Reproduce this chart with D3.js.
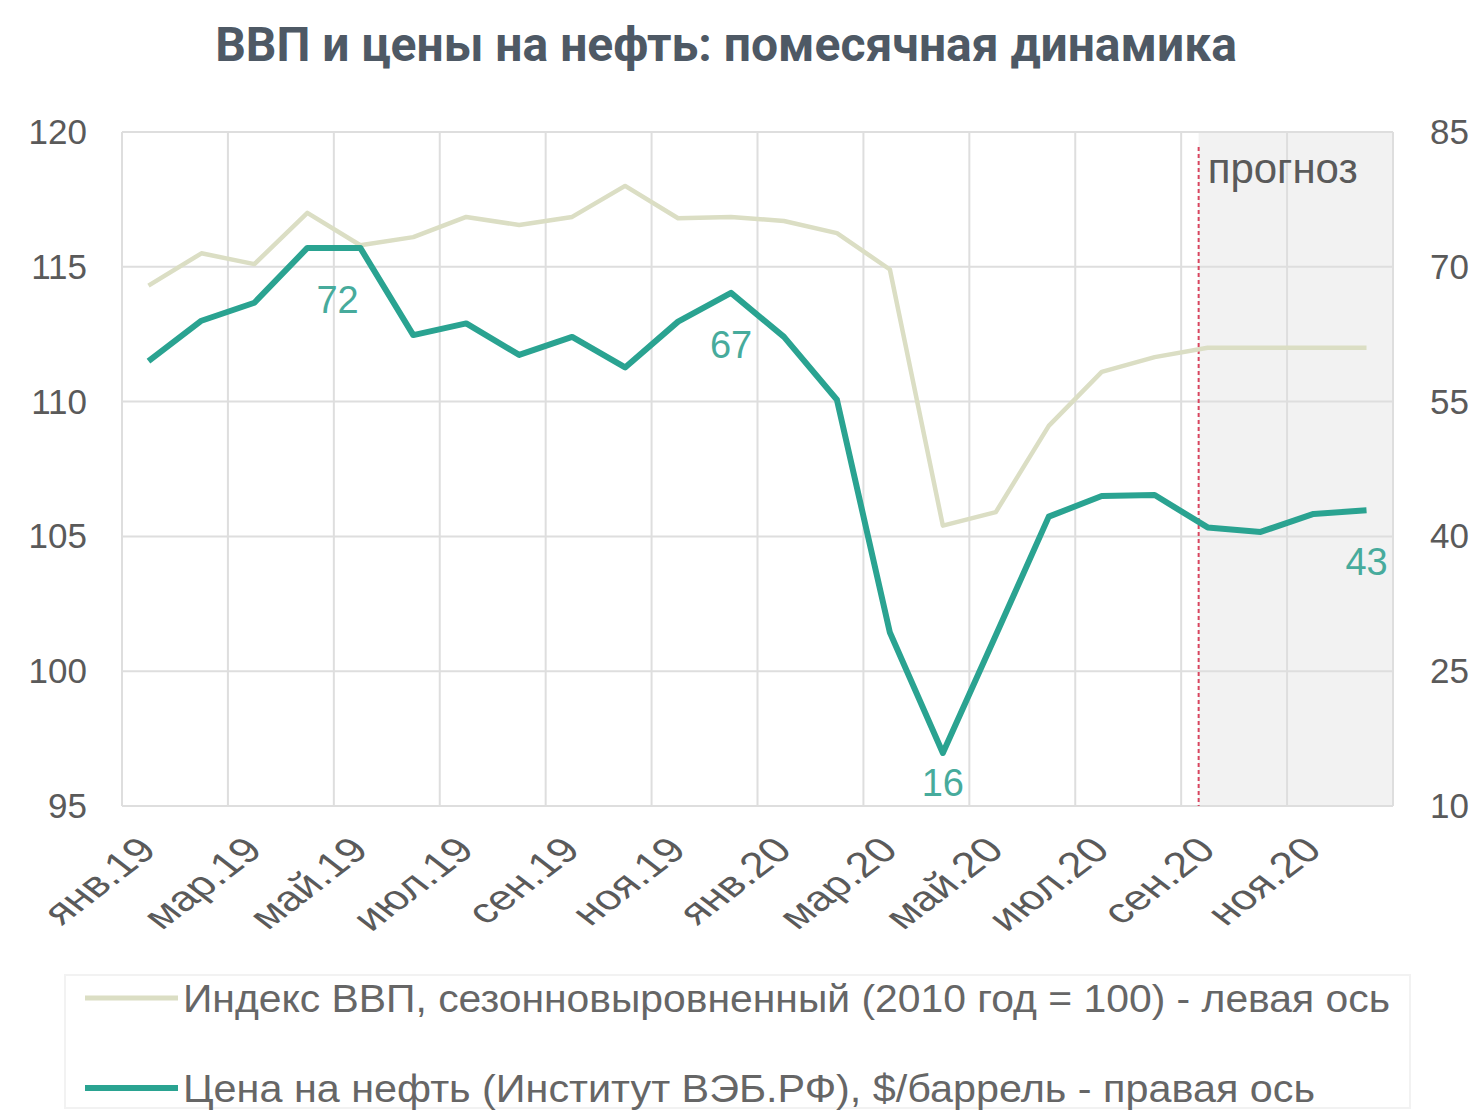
<!DOCTYPE html>
<html>
<head>
<meta charset="utf-8">
<script src="https://cdn.jsdelivr.net/npm/d3@7"></script>
<style>
  body { margin: 0; background: #fff; }
  svg text { font-family: "Liberation Sans", Arial, sans-serif; }
</style>
</head>
<body>
<svg id="chart" width="1480" height="1110"></svg>
<script>
// месяцы
const months = ["янв.19","фев.19","мар.19","апр.19","май.19","июн.19","июл.19","авг.19","сен.19","окт.19","ноя.19","дек.19",
  "янв.20","фев.20","мар.20","апр.20","май.20","июн.20","июл.20","авг.20","сен.20","окт.20","ноя.20","дек.20"];

// индекс ВВП (левая ось)
const gdp = [114.3,115.5,115.1,117.0,115.8,116.1,116.85,116.55,116.85,118.0,116.8,116.85,
  116.7,116.25,114.9,105.4,105.9,109.1,111.1,111.65,112.0,112.0,112.0,112.0];

// цена на нефть (правая ось)
const oil = [59.5,64.0,66.0,72.1,72.1,62.4,63.7,60.2,62.2,58.8,63.9,67.1,
  62.2,55.2,29.3,15.9,29.0,42.2,44.5,44.6,41.0,40.5,42.5,42.9];

const leftTicks = [95,100,105,110,115,120];
const rightTicks = [10,25,40,55,70,85];

// подписи точек
const pointLabels = [
  {month: "апр.19", text: "72"},
  {month: "дек.19", text: "67"},
  {month: "апр.20", text: "16"},
  {month: "дек.20", text: "43"}
];
const forecastStart = "сен.20";

const legendItems = [
  "Индекс ВВП, сезонновыровненный (2010 год = 100) - левая ось",
  "Цена на нефть (Институт ВЭБ.РФ), $/баррель  - правая ось"
];

const gdpColor = "#dbdec4";
const oilColor = "#2aa391";
const labelColor = "#47ab9c";

const svg = d3.select("#chart");
const plotLeft = 122, plotRight = 1393, plotTop = 132, plotBottom = 806;

const x = d3.scaleBand().domain(months).range([plotLeft, plotRight]).paddingInner(0).paddingOuter(0);
const cx = m => x(m) + x.bandwidth() / 2;
const yL = d3.scaleLinear().domain([95, 120]).range([plotBottom, plotTop]);
const yR = d3.scaleLinear().domain([10, 85]).range([plotBottom, plotTop]);

// TITEL
svg.append("text")
  .attr("x", 726).attr("y", 61)
  .attr("text-anchor", "middle")
  .attr("font-size", 48)
  .attr("font-weight", "bold")
  .style("font-family", "Roboto, sans-serif")
  .attr("fill", "#4e5965")
  .text("ВВП и цены на нефть: помесячная динамика");

// прогноз
const fx = cx(forecastStart) - x.step() * 0.17;
svg.append("rect")
  .attr("x", fx).attr("y", plotTop)
  .attr("width", plotRight - fx).attr("height", plotBottom - plotTop)
  .attr("fill", "#f2f2f2");

// grid
svg.append("g")
  .selectAll("line")
  .data(leftTicks)
  .join("line")
  .attr("x1", plotLeft).attr("x2", plotRight)
  .attr("y1", d => yL(d)).attr("y2", d => yL(d))
  .attr("stroke", "#dedede").attr("stroke-width", 2);

const vlines = months.filter((m, i) => i % 2 === 0).map(m => x(m)).concat([plotRight]);
svg.append("g")
  .selectAll("line")
  .data(vlines)
  .join("line")
  .attr("x1", d => d).attr("x2", d => d)
  .attr("y1", plotTop).attr("y2", plotBottom)
  .attr("stroke", "#dedede").attr("stroke-width", 2);

// dashed line
svg.append("line")
  .attr("x1", fx).attr("x2", fx)
  .attr("y1", plotTop + 15).attr("y2", plotBottom)
  .attr("stroke", "#d9455f").attr("stroke-width", 2)
  .attr("stroke-dasharray", "4,3");

svg.append("text")
  .attr("x", fx + 9).attr("y", 183)
  .attr("font-size", 42)
  .attr("fill", "#5a5a5a")
  .text("прогноз");

// axis labels
svg.append("g")
  .selectAll("text")
  .data(leftTicks)
  .join("text")
  .attr("x", 87).attr("y", d => yL(d) + 12)
  .attr("text-anchor", "end")
  .attr("font-size", 35)
  .attr("fill", "#5a5a5a")
  .text(d => d);

svg.append("g")
  .selectAll("text")
  .data(rightTicks)
  .join("text")
  .attr("x", 1430).attr("y", d => yR(d) + 12)
  .attr("font-size", 35)
  .attr("fill", "#5a5a5a")
  .text(d => d);

svg.append("g")
  .selectAll("text")
  .data(months.filter((m, i) => i % 2 === 0))
  .join("text")
  .attr("transform", d => `translate(${cx(d) + 10},${852}) scale(1.3,1) rotate(-45)`)
  .attr("text-anchor", "end")
  .attr("font-size", 35)
  .attr("fill", "#5a5a5a")
  .text(d => d);

// LINES
const lineGdp = d3.line().x((d, i) => cx(months[i])).y(d => yL(d));
const lineOil = d3.line().x((d, i) => cx(months[i])).y(d => yR(d));

svg.append("path")
  .attr("d", lineGdp(gdp))
  .attr("fill", "none")
  .attr("stroke", gdpColor)
  .attr("stroke-width", 4.5)
  .attr("stroke-linejoin", "round");

svg.append("path")
  .attr("d", lineOil(oil))
  .attr("fill", "none")
  .attr("stroke", oilColor)
  .attr("stroke-width", 6)
  .attr("stroke-linejoin", "round");

// LABELS
svg.append("g")
  .selectAll("text")
  .data(pointLabels)
  .join("text")
  .attr("x", d => cx(d.month) + (d.month === "апр.19" ? x.step() * 0.57 : 0))
  .attr("y", d => yR(oil[months.indexOf(d.month)]) + (d.month === "апр.20" ? 43 : 65))
  .attr("text-anchor", "middle")
  .attr("font-size", 38)
  .attr("fill", labelColor)
  .text(d => d.text);

// LEGENDA
const legend = svg.append("g");
legend.append("rect")
  .attr("x", 65).attr("y", 975)
  .attr("width", 1345).attr("height", 133)
  .attr("fill", "none")
  .attr("stroke", "#f2f2f2").attr("stroke-width", 2);

const legendColors = [gdpColor, oilColor];
const legendWidths = [1207, 1132];
legend.selectAll("line")
  .data(legendItems)
  .join("line")
  .attr("x1", 85).attr("x2", 178)
  .attr("y1", (d, i) => 998 + i * 90).attr("y2", (d, i) => 998 + i * 90)
  .attr("stroke", (d, i) => legendColors[i])
  .attr("stroke-width", (d, i) => i === 0 ? 5 : 6);

legend.selectAll("text")
  .data(legendItems)
  .join("text")
  .attr("x", 183)
  .attr("y", (d, i) => 1012 + i * 90)
  .attr("font-size", 38)
  .attr("fill", "#666")
  .attr("textLength", (d, i) => legendWidths[i])
  .attr("lengthAdjust", "spacingAndGlyphs")
  .text(d => d);
</script>
</body>
</html>
